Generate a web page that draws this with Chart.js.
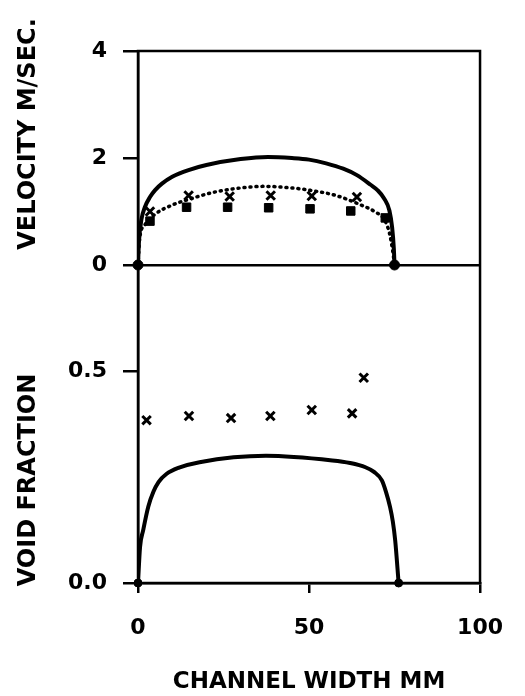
<!DOCTYPE html>
<html>
<head>
<meta charset="utf-8">
<script src="https://cdn.jsdelivr.net/npm/chart.js@4"></script>
<style>
  body { margin: 0; background: #fff; }
  canvas { display: block; }
</style>
</head>
<body>
<canvas id="chart" width="525" height="696"></canvas>
<script>
// channel width positions (mm) and values
const xTicks = [0, 50, 100];
const velTicks = [0, 2, 4];
const voidTicks = [0, 0.5];

// velocity, model (solid)
const velModelX = [0, 0.3, 1, 2, 3.5, 5, 7, 10, 15, 20, 30, 38, 45, 50, 55, 60, 64, 68, 70, 72, 73.5, 74.3, 74.8, 75];
const velModelY = [0, 0.45, 0.85, 1.08, 1.27, 1.40, 1.52, 1.65, 1.78, 1.87, 1.98, 2.02, 2.0, 1.97, 1.90, 1.80, 1.68, 1.50, 1.40, 1.24, 1.02, 0.70, 0.30, 0];

// velocity, second model (dotted)
const velDotX = [0, 0.5, 2, 5, 10, 17, 22.9, 30, 37, 45, 50, 57.8, 64.5, 69.4, 72, 73.5, 74.5, 75];
const velDotY = [0, 0.5, 0.75, 0.95, 1.12, 1.27, 1.37, 1.44, 1.47, 1.44, 1.40, 1.30, 1.14, 0.99, 0.85, 0.60, 0.25, 0];

// velocity, measured (squares and crosses)
const velSqX = [3.5, 14.2, 26.2, 38.2, 50.3, 62.2, 72.3];
const velSqY = [0.82, 1.08, 1.08, 1.07, 1.05, 1.01, 0.88];
const velCrX = [3.5, 14.8, 26.8, 38.8, 50.8, 64.0];
const velCrY = [1.0, 1.30, 1.28, 1.30, 1.29, 1.27];

// wall points
const velWallX = [0, 75];
const velWallY = [0, 0];

// void fraction, model (solid)
const voidModelX = [0, 0.6, 1.5, 3, 4.5, 6, 8.3, 12, 18, 37.4, 56.8, 62, 66.5, 69, 71.3, 72.5, 73.7, 74.5, 75.2, 76.2];
const voidModelY = [0, 0.085, 0.124, 0.18, 0.215, 0.238, 0.257, 0.272, 0.285, 0.300, 0.289, 0.283, 0.273, 0.262, 0.242, 0.215, 0.179, 0.145, 0.10, 0];

// void fraction, measured (crosses)
const voidCrX = [2.5, 14.9, 27.2, 38.7, 50.8, 62.6, 66.0];
const voidCrY = [0.384, 0.394, 0.389, 0.394, 0.408, 0.400, 0.484];

const voidWallX = [0, 76.2];
const voidWallY = [0, 0];

const velTitle = "VELOCITY M/SEC.";
const voidTitle = "VOID FRACTION";
const xTitle = "CHANNEL WIDTH MM";

const pts = (xs, ys) => xs.map((x, i) => ({ x: x, y: ys[i] }));
const FONT = '"DejaVu Sans", sans-serif';

// outline of the plot area and the two rotated panel titles
const frame = {
  id: "frame",
  beforeDatasetsDraw(chart) {
    const { ctx, chartArea: a } = chart;
    ctx.save();
    ctx.strokeStyle = "#000";
    ctx.lineWidth = 2.5;
    ctx.strokeRect(a.left, a.top, a.right - a.left, a.bottom - a.top);
    ctx.restore();
  },
  afterDraw(chart) {
    const ctx = chart.ctx;
    ctx.save();
    ctx.font = "bold 24px " + FONT;
    ctx.fillStyle = "#000";
    ctx.textAlign = "center";
    ctx.textBaseline = "middle";
    [[velTitle, 134], [voidTitle, 480]].forEach(([t, y]) => {
      ctx.save();
      ctx.translate(29, y);
      ctx.rotate(-Math.PI / 2);
      ctx.fillText(t, 0, 0);
      ctx.restore();
    });
    ctx.restore();
  }
};

const keepTicks = (list) => (scale) => {
  scale.ticks = list.map((v) => ({ value: v }));
};

new Chart(document.getElementById("chart"), {
  type: "scatter",
  data: {
    datasets: [
      {
        data: pts(velModelX, velModelY),
        yAxisID: "yv",
        showLine: true,
        cubicInterpolationMode: "monotone",
        borderColor: "#000",
        borderWidth: 4,
        pointRadius: 0,
      },
      {
        data: pts(velDotX, velDotY),
        yAxisID: "yv",
        showLine: true,
        cubicInterpolationMode: "monotone",
        borderColor: "#000",
        borderWidth: 3.5,
        borderDash: [1, 5],
        borderCapStyle: "round",
        pointRadius: 0,
      },
      {
        data: pts(velSqX, velSqY),
        yAxisID: "yv",
        pointStyle: "rect",
        pointRadius: 6,
        backgroundColor: "#000",
        borderColor: "#000",
      },
      {
        data: pts(velCrX, velCrY),
        yAxisID: "yv",
        pointStyle: "crossRot",
        pointRadius: 6,
        borderWidth: 3,
        borderColor: "#000",
      },
      {
        data: pts(velWallX, velWallY),
        yAxisID: "yv",
        clip: false,
        pointStyle: "circle",
        pointRadius: 5,
        backgroundColor: "#000",
        borderColor: "#000",
      },
      {
        data: pts(voidModelX, voidModelY),
        yAxisID: "yf",
        showLine: true,
        cubicInterpolationMode: "monotone",
        borderColor: "#000",
        borderWidth: 4,
        pointRadius: 0,
      },
      {
        data: pts(voidCrX, voidCrY),
        yAxisID: "yf",
        pointStyle: "crossRot",
        pointRadius: 6,
        borderWidth: 3,
        borderColor: "#000",
      },
      {
        data: pts(voidWallX, voidWallY),
        yAxisID: "yf",
        clip: false,
        pointStyle: "circle",
        pointRadius: 4,
        backgroundColor: "#000",
        borderColor: "#000",
      },
    ],
  },
  options: {
    responsive: false,
    animation: false,
    layout: { padding: { top: 51, right: 43, left: 0, bottom: 0 } },
    plugins: { legend: { display: false }, tooltip: { enabled: false } },
    scales: {
      x: {
        type: "linear",
        min: 0,
        max: 100,
        afterBuildTicks: keepTicks(xTicks),
        afterFit: (s) => { s.height = 113; },
        border: { display: true, color: "#000", width: 2.5 },
        grid: { drawOnChartArea: false, color: "#000", lineWidth: 2.5, tickLength: 10 },
        ticks: { color: "#000", padding: 22, font: { family: FONT, weight: "bold", size: 22 } },
        title: {
          display: true,
          text: xTitle,
          color: "#000",
          font: { family: FONT, weight: "bold", size: 23 },
          padding: { top: 0, bottom: 0 },
        },
      },
      // stacked scales: the first one listed sits at the bottom
      yf: {
        type: "linear",
        position: "left",
        stack: "panels",
        stackWeight: 318,
        min: 0,
        max: 0.75,
        afterBuildTicks: keepTicks(voidTicks),
        afterFit: (s) => { s.width = 138; },
        border: { display: true, color: "#000", width: 2.5 },
        grid: { drawOnChartArea: false, color: "#000", lineWidth: 2.5, tickLength: 15 },
        ticks: {
          color: "#000",
          padding: 16,
          font: { family: FONT, weight: "bold", size: 22 },
          callback: (v) => v.toFixed(1),
        },
      },
      yv: {
        type: "linear",
        position: "left",
        stack: "panels",
        stackWeight: 214,
        min: 0,
        max: 4,
        afterBuildTicks: keepTicks(velTicks),
        afterFit: (s) => { s.width = 138; },
        border: { display: true, color: "#000", width: 2.5 },
        grid: {
          color: (c) => (c.tick && c.tick.value === 0 ? "#000" : "rgba(0,0,0,0)"),
          tickColor: "#000",
          lineWidth: 2.5,
          tickLength: 15,
        },
        ticks: { color: "#000", padding: 16, font: { family: FONT, weight: "bold", size: 22 } },
      },
    },
  },
  plugins: [frame],
});
</script>
</body>
</html>
